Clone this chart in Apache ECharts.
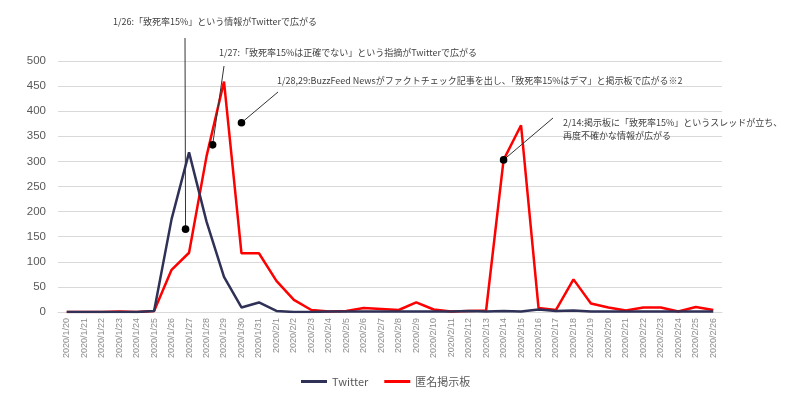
<!DOCTYPE html>
<html>
<head>
<meta charset="utf-8">
<script src="https://cdn.jsdelivr.net/npm/echarts@6/dist/echarts.min.js"></script>
<style>
  html, body { margin: 0; padding: 0; background: #fff; }
  #main { width: 800px; height: 398px; }
</style>
</head>
<body>
<div id="main"></div>
<script>
// 日付
var dates = ['2020/1/20', '2020/1/21', '2020/1/22', '2020/1/23', '2020/1/24', '2020/1/25', '2020/1/26',
  '2020/1/27', '2020/1/28', '2020/1/29', '2020/1/30', '2020/1/31',
  '2020/2/1', '2020/2/2', '2020/2/3', '2020/2/4', '2020/2/5', '2020/2/6', '2020/2/7', '2020/2/8',
  '2020/2/9', '2020/2/10', '2020/2/11', '2020/2/12', '2020/2/13', '2020/2/14', '2020/2/15',
  '2020/2/16', '2020/2/17', '2020/2/18', '2020/2/19', '2020/2/20', '2020/2/21', '2020/2/22',
  '2020/2/23', '2020/2/24', '2020/2/25', '2020/2/26'];
// Twitter
var twitterData = [0, 0, 0, 0, 0, 2, 185, 318, 180, 70, 9, 19,
  2, 0, 0, 1, 1, 1, 1, 1, 1, 1, 1, 2, 1, 2, 1, 5, 2, 3, 1, 1, 1, 1, 1, 1, 1, 1];
// 匿名掲示板
var boardData = [0, 0, 0, 1, 0, 2, 84, 118, 310, 459, 117, 117,
  62, 24, 4, 1, 2, 8, 6, 4, 19, 5, 1, 2, 3, 303, 372, 8, 4, 65, 17, 9, 3, 9, 9, 1, 10, 4];
// 注釈 (点の位置はデータ座標: [日付インデックス, 値])
var notes = [{
  dot: [6.8, 165], lineEnd: [185, 38], textPos: [113, 22],
  text: '1/26:「致死率15%」という情報がTwitterで広がる'
}, {
  dot: [8.35, 333], lineEnd: [224, 66], textPos: [219, 53],
  text: '1/27:「致死率15%は正確でない」という指摘がTwitterで広がる'
}, {
  dot: [10, 377], lineEnd: [278, 92], textPos: [277, 81],
  text: '1/28,29:BuzzFeed Newsがファクトチェック記事を出し、「致死率15%はデマ」と掲示板で広がる※2'
}, {
  dot: [25, 303], lineEnd: [553, 118], textPos: [563, 129],
  text: '2/14:掲示板に「致死率15%」というスレッドが立ち、\n再度不確かな情報が広がる'
}];

var chart = echarts.init(document.getElementById('main'));
chart.setOption({
  animation: false,
  textStyle: {
    fontFamily: 'Noto Sans CJK JP'
  },
  grid: {
    left: 58,
    right: 78,
    top: 61,
    bottom: 86
  },
  legend: {
    left: 296,
    top: 371,
    icon: 'rect',
    itemWidth: 26,
    itemHeight: 3,
    itemGap: 16,
    textStyle: {
      color: '#595959',
      fontSize: 11
    },
    data: ['Twitter', '匿名掲示板']
  },
  xAxis: {
    type: 'category',
    boundaryGap: true,
    data: dates,
    axisLine: {
      lineStyle: { color: '#d9d9d9', width: 1 }
    },
    axisTick: { show: false },
    axisLabel: {
      interval: 0,
      rotate: 90,
      margin: 6,
      fontSize: 9,
      color: '#8c8c8c',
      fontFamily: 'Liberation Sans'
    }
  },
  yAxis: {
    type: 'value',
    min: 0,
    max: 500,
    interval: 50,
    axisLine: { show: false },
    axisTick: { show: false },
    axisLabel: {
      margin: 12,
      fontSize: 11.5,
      color: '#595959',
      fontFamily: 'Liberation Sans'
    },
    splitLine: {
      lineStyle: { color: '#d9d9d9', width: 1 }
    }
  },
  series: [{
    name: 'Twitter',
    type: 'line',
    data: twitterData,
    symbol: 'none',
    z: 3,
    itemStyle: { color: '#2f3157' },
    lineStyle: { color: '#2f3157', width: 2.5 }
  }, {
    name: '匿名掲示板',
    type: 'line',
    data: boardData,
    symbol: 'none',
    z: 2,
    itemStyle: { color: '#ff0000' },
    lineStyle: { color: '#ff0000', width: 2.5 }
  }]
});

// データ座標→ピクセル (小数インデックスは前後の日付で補間)
function toPixel(idx, val) {
  var i0 = Math.floor(idx), i1 = Math.min(i0 + 1, dates.length - 1);
  var p0 = chart.convertToPixel({ gridIndex: 0 }, [i0, val]);
  var p1 = chart.convertToPixel({ gridIndex: 0 }, [i1, val]);
  var f = idx - i0;
  return [p0[0] + (p1[0] - p0[0]) * f, p0[1]];
}

var elements = [];
notes.forEach(function(n) {
  var p = toPixel(n.dot[0], n.dot[1]);
  elements.push({
    type: 'line',
    shape: { x1: p[0], y1: p[1], x2: n.lineEnd[0], y2: n.lineEnd[1] },
    style: { stroke: '#333', lineWidth: 1 },
    z: 100
  });
  elements.push({
    type: 'circle',
    shape: { cx: p[0], cy: p[1], r: 3.8 },
    style: { fill: '#000' },
    z: 101
  });
  elements.push({
    type: 'text',
    x: n.textPos[0],
    y: n.textPos[1],
    style: {
      text: n.text,
      fill: '#404040',
      fontSize: 9,
      lineHeight: 13,
      fontFamily: 'Noto Sans CJK JP',
      verticalAlign: 'middle'
    },
    z: 100
  });
});
chart.setOption({ graphic: elements });
</script>
</body>
</html>
